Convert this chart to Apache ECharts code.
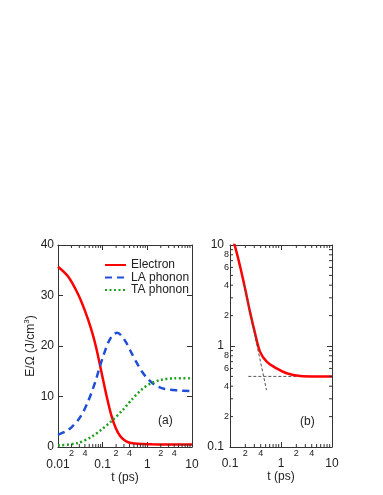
<!DOCTYPE html>
<html><head><meta charset="utf-8">
<script src="https://cdn.jsdelivr.net/npm/echarts@6/dist/echarts.min.js"></script>
<style>html,body{margin:0;padding:0;background:#fff}#c{width:383px;height:495px}</style>
</head><body><div id="c"></div>
<script>
// ---- data ----
const electronTimes  = [0.01, 0.0167, 0.028, 0.04, 0.056, 0.071, 0.093, 0.121, 0.157, 0.197, 0.246, 0.309, 0.387, 0.524, 0.82, 1.29, 2.37, 5, 10];
const electronValues = [35.7, 33.8, 30.3, 27.0, 23.2, 19.8, 15.0, 10.3, 6.2, 3.73, 2.19, 1.34, 0.88, 0.70, 0.60, 0.537, 0.505, 0.5, 0.5];
const laTimes  = [0.01, 0.015, 0.02, 0.028, 0.037, 0.046, 0.057, 0.07, 0.087, 0.103, 0.125, 0.145, 0.175, 0.21, 0.26, 0.34, 0.45, 0.56, 0.75, 0.95, 1.47, 2.45, 4.8, 10];
const laValues = [2.4, 3.1, 3.9, 5.3, 7.0, 8.8, 10.9, 13.2, 16.0, 18.0, 20.1, 21.3, 22.3, 22.6, 22.1, 20.6, 18.5, 16.9, 15.0, 13.8, 12.3, 11.5, 11.2, 11.1];
const taTimes  = [0.01, 0.028, 0.056, 0.093, 0.156, 0.28, 0.44, 0.73, 1.2, 2.0, 4.0, 10];
const taValues = [0.3, 0.8, 2.0, 3.4, 5.1, 7.3, 9.3, 11.3, 12.6, 13.3, 13.6, 13.6];
const steepGuideTimes  = [0.19, 0.52];
const steepGuideValues = [4.0, 0.366];
const flatGuideTimes   = [0.229, 10];
const flatGuideValues  = [0.5, 0.5];
const seriesNames = ['Electron', 'LA phonon', 'TA phonon'];
const xRangeA = [0.01, 10];
const yRangeA = [0, 40];
const xRangeB = [0.1, 10];
const yRangeB = [0.1, 10];
const minorFactors = [2, 3, 4, 5, 6, 7, 8, 9];
const xLabelledMinor = [2, 4];
const yLabelledMinor = [2, 4, 6, 8];

// ---- helpers ----
const FONT = "'Liberation Sans', Arial, Helvetica, sans-serif";
const AX = '#333';
const pairs = (xs, ys) => xs.map((x, i) => [x, ys[i]]);
function minorList(range, labelled) {
  const out = [];
  for (let e = Math.round(Math.log10(range[0])); e < Math.round(Math.log10(range[1])); e++) {
    const base = Math.pow(10, e);
    minorFactors.forEach(f => out.push({ v: +(f * base).toPrecision(3), lbl: labelled.includes(f) ? String(f) : '' }));
  }
  return out;
}
const logFmt = v => String(+(+v).toPrecision(3));

function xMinorSeries(xi, yi, range, refY) {
  const list = minorList(range, xLabelledMinor);
  return {
    type: 'custom', xAxisIndex: xi, yAxisIndex: yi, silent: true, clip: false, z: 5,
    data: list.map(t => [t.v, refY]),
    renderItem(params, api) {
      const cs = params.coordSys;
      const px = api.coord([api.value(0), refY])[0];
      const bot = cs.y + cs.height, top = cs.y;
      const lbl = list[params.dataIndex].lbl;
      const ch = [
        { type: 'line', shape: { x1: px, y1: bot, x2: px, y2: bot - 3 }, style: { stroke: AX, lineWidth: 1 } },
        { type: 'line', shape: { x1: px, y1: top, x2: px, y2: top + 3 }, style: { stroke: AX, lineWidth: 1 } }
      ];
      if (lbl) ch.push({ type: 'text', x: px, y: bot + 2, style: { text: lbl, fill: '#222', font: '9px ' + FONT, align: 'center', verticalAlign: 'top' } });
      return { type: 'group', children: ch };
    }
  };
}
function yMinorSeries(xi, yi, range, refX) {
  const list = minorList(range, yLabelledMinor);
  return {
    type: 'custom', xAxisIndex: xi, yAxisIndex: yi, silent: true, clip: false, z: 5,
    data: list.map(t => [refX, t.v]),
    renderItem(params, api) {
      const cs = params.coordSys;
      const py = api.coord([refX, api.value(1)])[1];
      const l = cs.x, r = cs.x + cs.width;
      const lbl = list[params.dataIndex].lbl;
      const ch = [
        { type: 'line', shape: { x1: l, y1: py, x2: l + 3, y2: py }, style: { stroke: AX, lineWidth: 1 } },
        { type: 'line', shape: { x1: r, y1: py, x2: r - 3, y2: py }, style: { stroke: AX, lineWidth: 1 } }
      ];
      if (lbl) ch.push({ type: 'text', x: l - 1, y: py, style: { text: lbl, fill: '#222', font: '9px ' + FONT, align: 'right', verticalAlign: 'middle' } });
      return { type: 'group', children: ch };
    }
  };
}
function axisBase(extra) {
  return Object.assign({
    axisLine: { show: true, onZero: false, lineStyle: { color: AX, width: 1 } },
    axisTick: { show: true, inside: true, length: 5, lineStyle: { color: AX } },
    splitLine: { show: false },
    axisLabel: { color: '#222', fontSize: 12, fontFamily: FONT }
  }, extra);
}
function lineSeries(name, data, xi, yi, color, type, width) {
  return {
    name, type: 'line', data, xAxisIndex: xi, yAxisIndex: yi, smooth: 0.3,
    showSymbol: false, symbol: 'none', z: 3,
    lineStyle: { color, width, type, cap: 'butt' }, itemStyle: { color }
  };
}

const chart = echarts.init(document.getElementById('c'), null, { renderer: 'canvas' });
chart.setOption({
  animation: false,
  backgroundColor: '#fff',
  textStyle: { fontFamily: FONT },
  grid: [
    { left: 58, top: 245, width: 134, height: 202 },
    { left: 230, top: 245, width: 102, height: 202 }
  ],
  legend: {
    data: seriesNames, orient: 'vertical', left: 104, top: 259, padding: 0,
    itemWidth: 21, itemHeight: 10, itemGap: 0.5,
    itemStyle: { opacity: 0 },
    textStyle: { fontSize: 12, fontFamily: FONT, color: '#222', lineHeight: 12 },
    selectedMode: false
  },
  xAxis: [
    axisBase({ type: 'log', logBase: 10, gridIndex: 0, min: xRangeA[0], max: xRangeA[1], position: 'bottom',
      axisLabel: { color: '#222', fontSize: 12, fontFamily: FONT, margin: 12, formatter: logFmt },
      name: 't (ps)', nameLocation: 'middle', nameGap: 22, nameTextStyle: { fontSize: 12, color: '#222', fontFamily: FONT } }),
    axisBase({ type: 'log', logBase: 10, gridIndex: 0, min: xRangeA[0], max: xRangeA[1], position: 'top', axisLabel: { show: false } }),
    axisBase({ type: 'log', logBase: 10, gridIndex: 1, min: xRangeB[0], max: xRangeB[1], position: 'bottom',
      axisLabel: { color: '#222', fontSize: 12, fontFamily: FONT, margin: 11, formatter: logFmt },
      name: 't (ps)', nameLocation: 'middle', nameGap: 22, nameTextStyle: { fontSize: 12, color: '#222', fontFamily: FONT } }),
    axisBase({ type: 'log', logBase: 10, gridIndex: 1, min: xRangeB[0], max: xRangeB[1], position: 'top', axisLabel: { show: false } })
  ],
  yAxis: [
    axisBase({ type: 'value', gridIndex: 0, min: yRangeA[0], max: yRangeA[1], interval: 10, position: 'left',
      axisLabel: { color: '#222', fontSize: 12, fontFamily: FONT, margin: 4 },
      name: 'E/Ω (J/cm{sup|3})', nameLocation: 'middle', nameGap: 20,
      nameTextStyle: { fontSize: 12, color: '#222', fontFamily: FONT,
        rich: { sup: { fontSize: 8, color: '#222', fontFamily: FONT, verticalAlign: 'top', padding: [0, 0, 7, 0] } } } }),
    axisBase({ type: 'value', gridIndex: 0, min: yRangeA[0], max: yRangeA[1], interval: 10, position: 'right', axisLabel: { show: false } }),
    axisBase({ type: 'log', logBase: 10, gridIndex: 1, min: yRangeB[0], max: yRangeB[1], position: 'left',
      axisLabel: { color: '#222', fontSize: 12, fontFamily: FONT, margin: 6, formatter: logFmt } }),
    axisBase({ type: 'log', logBase: 10, gridIndex: 1, min: yRangeB[0], max: yRangeB[1], position: 'right', axisLabel: { show: false } })
  ],
  series: [
    lineSeries(seriesNames[0], pairs(electronTimes, electronValues), 0, 0, '#ff0000', 'solid', 2.5),
    lineSeries(seriesNames[1], pairs(laTimes, laValues), 0, 0, '#1f4fd9', [7, 5], 2.5),
    lineSeries(seriesNames[2], pairs(taTimes, taValues), 0, 0, '#1fa01f', [2, 2.5], 2.5),
    Object.assign(lineSeries('guide steep', pairs(steepGuideTimes, steepGuideValues), 2, 2, '#555', [3, 2], 1), { smooth: false, z: 4 }),
    Object.assign(lineSeries('guide flat', pairs(flatGuideTimes, flatGuideValues), 2, 2, '#555', [3, 2], 1), { smooth: false, z: 2 }),
    lineSeries(seriesNames[0], pairs(electronTimes, electronValues), 2, 2, '#ff0000', 'solid', 2.5),
    xMinorSeries(0, 0, xRangeA, 0),
    xMinorSeries(2, 2, xRangeB, 1),
    yMinorSeries(2, 2, yRangeB, 1)
  ],
  graphic: [
    { type: 'text', left: 158, top: 415, style: { text: '(a)', font: '12px ' + FONT, fill: '#222' } },
    { type: 'text', left: 300, top: 416, style: { text: '(b)', font: '12px ' + FONT, fill: '#222' } }
  ]
});
</script>
</body></html>
